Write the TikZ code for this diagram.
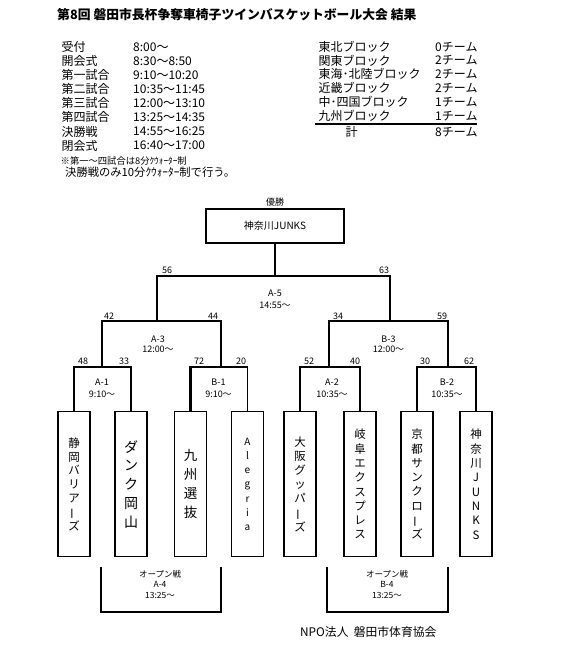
\documentclass[tikz,border=0pt]{standalone}
\usepackage{fontspec}
\usepackage{graphicx}
\setmainfont{Noto Sans CJK JP}
\newcommand\vbar{\rotatebox[origin=c]{90}{ー}}
\tikzset{
  lbl/.style={inner sep=0pt, font=\fontsize{9}{10}\selectfont},
  hdr/.style={inner sep=0pt, anchor=west, font=\fontsize{12}{13}\selectfont},
  norm/.style={line width=1.2pt},
  win/.style={line width=2.3pt},
  teambox/.style={draw, line width=1.4pt, minimum width=32pt, minimum height=145pt,
    anchor=north, inner sep=0pt, align=center},
}
\begin{document}
\begin{tikzpicture}[x=1pt,y=-1pt]
\useasboundingbox (0,0) rectangle (560,647);
% title
\node[inner sep=0pt, anchor=west, font=\fontsize{12.8}{14}\selectfont\bfseries] (title) at (57,15) {第8回 磐田市長杯争奪車椅子ツインバスケットボール大会 結果};
% schedule
\node[hdr] (sa1) at (61.5,47) {受付};        \node[hdr] (sb1) at (133,47) {8:00〜};
\node[hdr] (sa2) at (61.5,61) {開会式};      \node[hdr] (sb2) at (133,61) {8:30〜8:50};
\node[hdr] (sa3) at (61.5,75) {第一試合};    \node[hdr] (sb3) at (133,75) {9:10〜10:20};
\node[hdr] (sa4) at (61.5,89) {第二試合};    \node[hdr] (sb4) at (133,89) {10:35〜11:45};
\node[hdr] (sa5) at (61.5,103) {第三試合};   \node[hdr] (sb5) at (133,103) {12:00〜13:10};
\node[hdr] (sa6) at (61.5,117) {第四試合};   \node[hdr] (sb6) at (133,117) {13:25〜14:35};
\node[hdr] (sa7) at (61.5,131.5) {決勝戦};   \node[hdr] (sb7) at (133,131.5) {14:55〜16:25};
\node[hdr] (sa8) at (61.5,145.7) {閉会式};   \node[hdr] (sb8) at (133,145.7) {16:40〜17:00};
\node[hdr, font=\fontsize{9.3}{11}\selectfont] (note1) at (60.5,160.5) {※第一〜四試合は8分ｸｳｫｰﾀｰ制};
\node[hdr, font=\fontsize{11.3}{13}\selectfont] (note2) at (65,172.5) {決勝戦のみ10分ｸｳｫｰﾀｰ制で行う。};
% blocks
\node[hdr] (ba1) at (318.5,47.3) {東北ブロック};        \node[hdr] (bb1) at (435,47.3) {0チーム};
\node[hdr] (ba2) at (318.5,60.5) {関東ブロック};        \node[hdr] (bb2) at (435,60.5) {2チーム};
\node[hdr] (ba3) at (318.5,74.3) {東海･北陸ブロック};   \node[hdr] (bb3) at (435,74.3) {2チーム};
\node[hdr] (ba4) at (318.5,87.7) {近畿ブロック};        \node[hdr] (bb4) at (435,87.7) {2チーム};
\node[hdr] (ba5) at (318.5,101.7) {中･四国ブロック};    \node[hdr] (bb5) at (435,101.7) {1チーム};
\node[hdr] (ba6) at (318.5,116) {九州ブロック};         \node[hdr] (bb6) at (435,116) {1チーム};
\node[hdr, anchor=center] (ba7) at (351.5,131.7) {計};  \node[hdr] (bb7) at (435,131.7) {8チーム};
\coordinate (ul1) at (315,124.3);
\coordinate (ul2) at (477,124.3);
\draw[line width=1.7pt] (ul1) -- (ul2);
% final
\node[draw, line width=1.4pt, minimum width=138pt, minimum height=34pt, inner sep=0pt,
  font=\fontsize{10}{11}\selectfont] (fin) at (275,226) {神奈川JUNKS};
\node[lbl] (champ) at (275,202.5) {優勝};
% team boxes
\node[teambox] (t1) at (74,411) {};
\node[teambox] (t2) at (131,411) {};
\node[teambox] (t3) at (190.5,411) {};
\node[teambox] (t4) at (247.5,411) {};
\node[teambox] (t5) at (300,411) {};
\node[teambox] (t6) at (360,411) {};
\node[teambox] (t7) at (417,411) {};
\node[teambox] (t8) at (476,411) {};
\node[align=center, inner sep=0pt, font=\fontsize{11.5}{13.8}\selectfont] (n1) at (t1) {静\\岡\\バ\\リ\\ア\\\vbar\\ズ};
\node[align=center, inner sep=0pt, font=\fontsize{14}{18.75}\selectfont] (n2) at (t2) {ダ\\ン\\ク\\岡\\山};
\node[align=center, inner sep=0pt, font=\fontsize{13.5}{19}\selectfont] (n3) at (t3) {九\\州\\選\\抜};
\node[align=center, inner sep=0pt, font=\fontsize{10}{14.2}\selectfont] (n4) at (t4) {A\\l\\e\\g\\r\\i\\a};
\node[align=center, inner sep=0pt, font=\fontsize{11.5}{14.2}\selectfont] (n5) at (t5) {大\\阪\\グ\\ッ\\パ\\\vbar\\ズ};
\node[align=center, inner sep=0pt, font=\fontsize{11.5}{14.3}\selectfont] (n6) at (t6) {岐\\阜\\エ\\ク\\ス\\プ\\レ\\ス};
\node[align=center, inner sep=0pt, font=\fontsize{11.5}{14.3}\selectfont] (n7) at (t7) {京\\都\\サ\\ン\\ク\\ロ\\\vbar\\ズ};
\node[align=center, inner sep=0pt, font=\fontsize{11.5}{14.3}\selectfont] (n8) at (t8) {神\\奈\\川\\J\\U\\N\\K\\S};
% junctions
\coordinate (j1) at (102,367);
\coordinate (j2) at (221,367);
\coordinate (j3) at (157,321);
\coordinate (j5) at (275,276);
\coordinate (j6) at (329,367);
\coordinate (j7) at (448,367);
\coordinate (j4) at (390,321);
% bracket lines
\draw[norm] (t1.north) |- (j1) -| (t2.north);
\draw[norm] (j2) -| (t4.north);
\draw[win] (t3.north) |- (j2);
\draw[norm] (j1) |- (j3);
\draw[win] (j2) |- (j3);
\draw[norm] (j3) |- (j5);
\draw[norm] (t5.north) |- (j6) -| (t6.north);
\draw[norm] (t7.north) |- (j7);
\draw[win] (t8.north) |- (j7);
\draw[norm] (j6) |- (j4);
\draw[win] (j7) |- (j4);
\draw[win] (j4) |- (j5);
\draw[win] (j5) -- (fin.south);
% scores
\node[lbl] (s56) at (167,270.5) {56};
\node[lbl] (s63) at (384,270.5) {63};
\node[lbl] (s42) at (109,316) {42};
\node[lbl] (s44) at (213,316) {44};
\node[lbl] (s34) at (338,316) {34};
\node[lbl] (s59) at (442,316) {59};
\node[lbl] (s48) at (83,361.5) {48};
\node[lbl] (s33) at (124,361.5) {33};
\node[lbl] (s72) at (199,361.5) {72};
\node[lbl] (s20) at (241,361.5) {20};
\node[lbl] (s52) at (309,361.5) {52};
\node[lbl] (s40) at (355,361.5) {40};
\node[lbl] (s30) at (425,361.5) {30};
\node[lbl] (s62) at (469,361.5) {62};
% match labels
\node[lbl] (m5a) at (275,293.5) {A-5};
\node[lbl] (m5b) at (275,305) {14:55〜};
\node[lbl] (m3a) at (158,339) {A-3};
\node[lbl] (m3b) at (158,349.5) {12:00〜};
\node[lbl] (m4a) at (388.5,339) {B-3};
\node[lbl] (m4b) at (388.5,349.5) {12:00〜};
\node[lbl] (ma1) at (102,382) {A-1};
\node[lbl] (mb1) at (102,394) {9:10〜};
\node[lbl] (ma2) at (218.5,382) {B-1};
\node[lbl] (mb2) at (218.5,394) {9:10〜};
\node[lbl] (ma3) at (332,382) {A-2};
\node[lbl] (mb3) at (332,394) {10:35〜};
\node[lbl] (ma4) at (447,382) {B-2};
\node[lbl] (mb4) at (447,394) {10:35〜};
% open matches
\coordinate (oa1) at (101,567);
\coordinate (ob1) at (221,567);
\coordinate (oa2) at (327,567);
\coordinate (ob2) at (448,567);
\draw[norm] (oa1) -- ++(0,45) -| (ob1);
\draw[norm] (oa2) -- ++(0,45) -| (ob2);
\node[lbl, font=\fontsize{8.5}{10}\selectfont] (o1a) at (160,574) {オープン戦};
\node[lbl, font=\fontsize{8.5}{10}\selectfont] (o1b) at (160,584.5) {A-4};
\node[lbl, font=\fontsize{8.5}{10}\selectfont] (o1c) at (160,595) {13:25〜};
\node[lbl, font=\fontsize{8.5}{10}\selectfont] (o2a) at (387,574) {オープン戦};
\node[lbl, font=\fontsize{8.5}{10}\selectfont] (o2b) at (387,584.5) {B-4};
\node[lbl, font=\fontsize{8.5}{10}\selectfont] (o2c) at (387,595) {13:25〜};
% footer
\node[hdr, font=\fontsize{11.8}{13}\selectfont] (npo) at (300,632) {NPO法人\ \ 磐田市体育協会};
\end{tikzpicture}
\end{document}
